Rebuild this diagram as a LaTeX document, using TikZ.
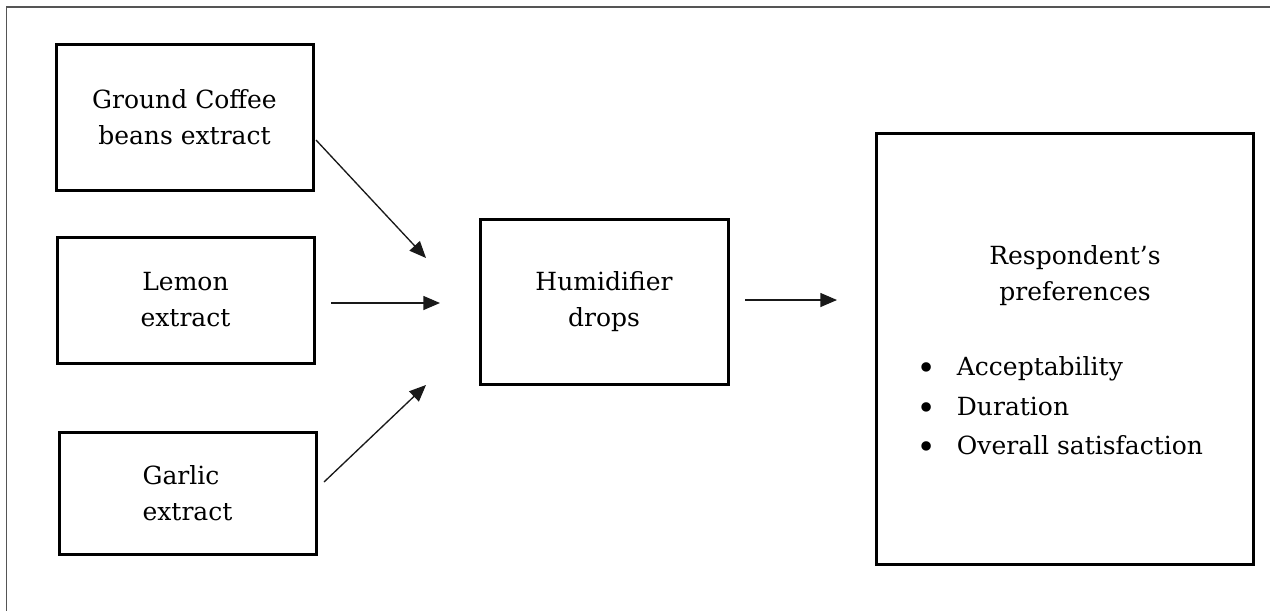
\documentclass[tikz,border=0pt]{standalone}
\usepackage{fontspec}
\setmainfont{DejaVu Serif}
\usetikzlibrary{arrows.meta}

\tikzset{every picture/.style={line width=0.75pt}}
\tikzset{
  extractbox/.style={draw, line width=2.25pt, inner sep=0pt, align=center, font=\fontsize{18.75}{27}\selectfont},
  plaintext/.style={inner sep=0pt, align=center, font=\fontsize{18.75}{27}\selectfont},
  flowarrow/.style={color={rgb, 255:red, 25; green, 25; blue, 25}, line width=1pt, -{Triangle[length=12.5pt,width=10.5pt]}},
}
\newcommand{\prefbullet}{\makebox[30.3pt][l]{\raisebox{-3pt}{\scalebox{1.3}{\textbullet}}}}

\begin{document}
\begin{tikzpicture}[x=0.75pt,y=0.75pt,yscale=-1,xscale=1]
\useasboundingbox (0,0) rectangle (1270,611);

%Straight Lines [frame] 
\draw [color={rgb, 255:red, 85; green, 85; blue, 85 }, line width=1pt] (1270,7) -- (6.5,7) -- (6.5,611) ;

%Shape: Rectangle [coffee] 
\node [extractbox, minimum width=192.75pt, minimum height=109.5pt] (coffee) at (184.5,117) {Ground Coffee\\beans extract};
%Shape: Rectangle [lemon] 
\node [extractbox, minimum width=192.75pt, minimum height=94.5pt] (lemon) at (185.5,300) {Lemon\\extract};
%Shape: Rectangle [garlic] 
\node [extractbox, align=left, minimum width=192.75pt, minimum height=91.5pt] (garlic) at (187.5,493) {Garlic\\extract};
%Shape: Rectangle [drops] 
\node [extractbox, minimum width=186pt, minimum height=123.75pt] (drops) at (604,301.5) {Humidifier\\drops};
%Shape: Rectangle [prefs] 
\node [extractbox, minimum width=282.75pt, minimum height=323.25pt] (prefs) at (1064.5,348.5) {};

% Text Node
\node [plaintext] (prefhead) at (1075,276) {Respondent’s\\preferences};
% Text Node
\node [plaintext, anchor=base west] (itemA) at (916,375) {\prefbullet Acceptability};
% Text Node
\node [plaintext, anchor=base west] (itemB) at (916,415) {\prefbullet Duration};
% Text Node
\node [plaintext, anchor=base west] (itemC) at (916,454) {\prefbullet Overall satisfaction};

%Arrow ends
\coordinate (coffeeout) at (316,140);
\coordinate (coffeein) at (426,258);
\coordinate (lemonout) at (331,303);
\coordinate (lemonin) at (440,303);
\coordinate (garlicout) at (324,482);
\coordinate (garlicin) at (426,385);
\coordinate (dropsout) at (745,300);
\coordinate (prefsin) at (837,300);

%Straight Lines 
\draw [flowarrow] (coffeeout) -- (coffeein) ;
%Straight Lines 
\draw [flowarrow] (lemonout) -- (lemonin) ;
%Straight Lines 
\draw [flowarrow] (garlicout) -- (garlicin) ;
%Straight Lines 
\draw [flowarrow] (dropsout) -- (prefsin) ;

\end{tikzpicture}
\end{document}
